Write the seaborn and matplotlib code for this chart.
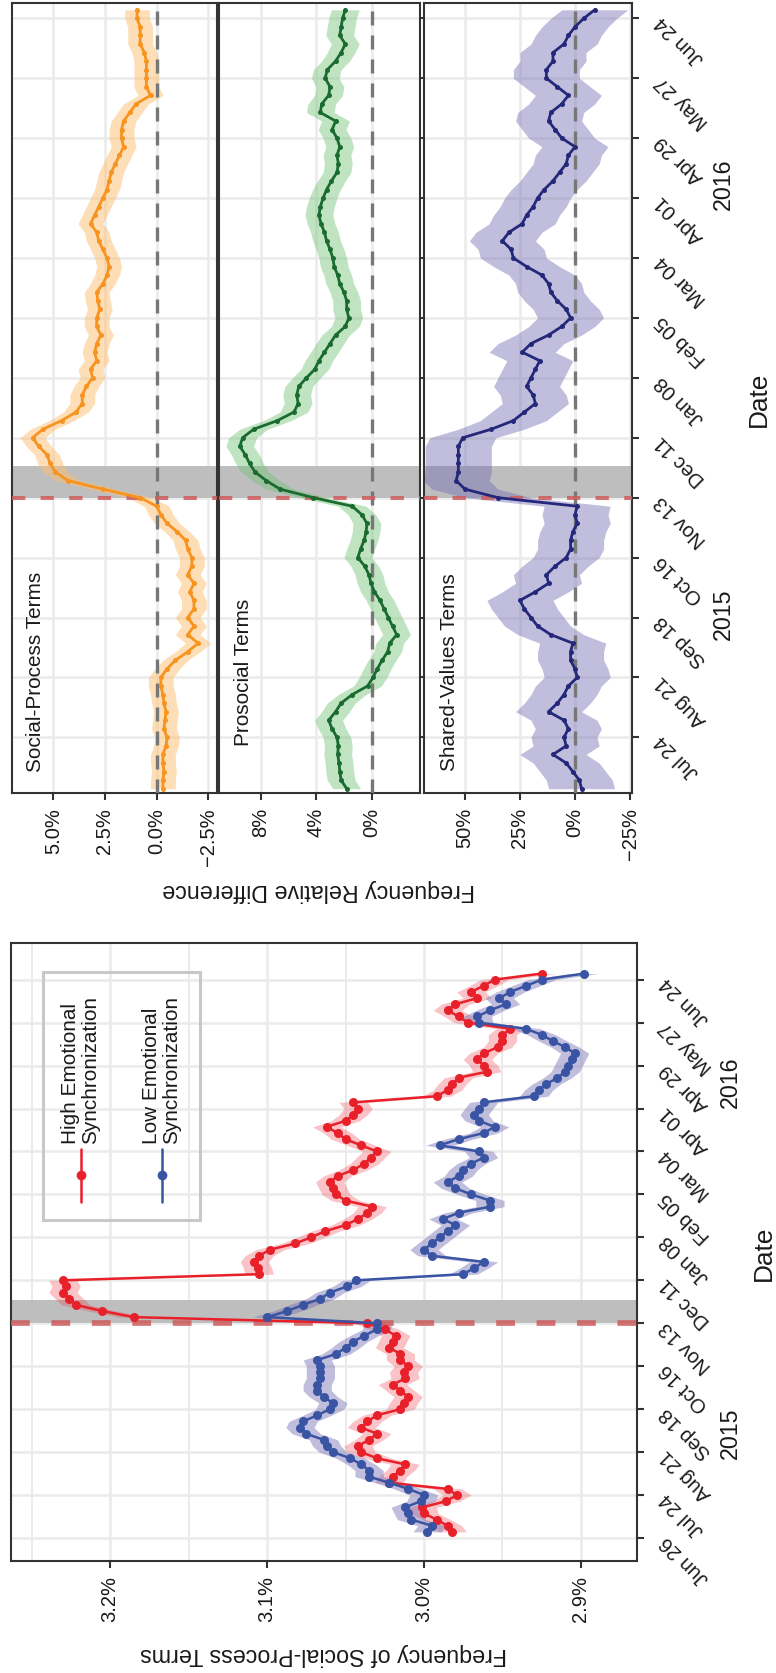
import matplotlib
matplotlib.use("Agg")
import numpy as np
import pandas as pd
import matplotlib.pyplot as plt
import matplotlib.dates as mdates
import matplotlib.transforms as mtransforms
from matplotlib import font_manager as fm
from matplotlib.lines import Line2D
from matplotlib.patches import Rectangle
import seaborn as sns

# ---- data (one value every 4 days) ----
dates = pd.date_range("2015-06-30", periods=92, freq="4D")

high_sync = [2.982, 2.985, 2.992, 3.000, 3.001, 2.986, 2.979, 2.985, 3.022, 3.020,
             3.015, 3.012, 3.030, 3.040, 3.042, 3.035, 3.030, 3.040, 3.036, 3.030,
             3.015, 3.013, 3.010, 3.015, 3.020, 3.012, 3.013, 3.010, 3.015, 3.015,
             3.022, 3.020, 3.018, 3.025, 3.036, 3.185, 3.205, 3.222, 3.226, 3.230,
             3.228, 3.230, 3.105, 3.106, 3.108, 3.105, 3.098, 3.082, 3.072, 3.063,
             3.050, 3.042, 3.036, 3.033, 3.050, 3.056, 3.058, 3.060, 3.055, 3.045,
             3.038, 3.034, 3.030, 3.040, 3.050, 3.055, 3.062, 3.050, 3.045, 3.042,
             3.045, 2.992, 2.985, 2.982, 2.978, 2.960, 2.962, 2.966, 2.962, 2.953,
             2.950, 2.950, 2.945, 2.972, 2.978, 2.985, 2.980, 2.966, 2.970, 2.962,
             2.955, 2.925]

low_sync = [2.998, 2.995, 3.008, 3.010, 3.012, 3.002, 3.000, 3.010, 3.022, 3.035,
            3.035, 3.040, 3.047, 3.058, 3.062, 3.064, 3.075, 3.079, 3.077, 3.068,
            3.060, 3.058, 3.064, 3.068, 3.068, 3.066, 3.066, 3.066, 3.068, 3.056,
            3.050, 3.045, 3.038, 3.030, 3.030, 3.100, 3.087, 3.077, 3.066, 3.060,
            3.049, 3.043, 2.975, 2.968, 2.962, 2.995, 3.000, 2.995, 2.990, 2.985,
            2.980, 2.988, 2.978, 2.958, 2.958, 2.970, 2.980, 2.985, 2.978, 2.975,
            2.970, 2.962, 2.965, 2.990, 2.978, 2.962, 2.955, 2.965, 2.968, 2.965,
            2.962, 2.930, 2.927, 2.922, 2.915, 2.910, 2.908, 2.906, 2.904, 2.910,
            2.918, 2.925, 2.935, 2.965, 2.966, 2.958, 2.948, 2.952, 2.945, 2.935,
            2.925, 2.898]

social_terms = [-0.3, -0.3, -0.35, -0.3, -0.3, -0.45, -0.5, -0.35, -0.4, -0.45,
                -0.35, -0.3, -0.2, -0.2, -0.5, -0.9, -1.5, -2.0, -1.5, -1.8,
                -1.5, -1.8, -1.8, -1.6, -1.8, -1.5, -1.7, -1.7, -1.5, -1.4,
                -1.0, -0.5, -0.2, 0.0, 0.8, 2.6, 4.3, 4.9, 5.15, 5.3,
                5.7, 6.0, 5.5, 4.6, 3.9, 3.6, 3.6, 3.4, 3.1, 3.2,
                2.9, 3.0, 2.9, 2.7, 2.9, 2.9, 2.75, 2.85, 2.9, 2.6,
                2.4, 2.3, 2.4, 2.6, 2.8, 2.9, 3.2, 3.0, 2.8, 2.6,
                2.4, 2.3, 2.2, 2.0, 1.8, 1.6, 1.7, 1.7, 1.6, 1.3,
                1.0, 0.3, 0.5, 0.5, 0.5, 0.5, 0.6, 0.8, 0.8, 0.8,
                0.95, 0.95]

prosocial_terms = [1.8, 2.2, 2.3, 2.35, 2.45, 2.4, 2.5, 2.85, 3.1, 2.6,
                   2.2, 1.4, 0.3, -0.1, -0.4, -0.75, -1.15, -1.3, -1.8, -1.5,
                   -1.2, -0.9, -0.6, -0.2, 0.05, 0.2, 0.5, 1.0, 0.8, 0.55,
                   0.4, 0.35, 0.7, 1.4, 4.2, 6.6, 7.6, 8.4, 8.8, 9.1,
                   9.5, 9.3, 8.5, 6.8, 5.6, 5.3, 5.4, 5.25, 4.7, 4.1,
                   3.8, 3.4, 3.0, 2.6, 1.9, 1.65, 1.8, 1.8, 2.0, 2.3,
                   2.45, 2.7, 2.8, 3.0, 3.25, 3.4, 3.65, 3.8, 3.7, 3.5,
                   3.25, 2.9, 2.5, 2.4, 2.5, 2.3, 2.5, 2.85, 2.6, 3.7,
                   3.6, 3.1, 3.0, 3.35, 3.2, 2.6, 2.2, 1.9, 2.3, 2.2,
                   2.1, 1.9]

shared_terms = [-3, -2, 1, 4, 10, 4, 5, 3, 5, 12,
                8, 5, 3, -1, 0, 2, 2, 1, 11, 17,
                20, 23, 25, 18, 12, 13, 9, 4, 2, 2,
                1, -1, 0, -1, 35, 50, 54, 53, 53, 53,
                53, 51, 38, 28, 23, 18, 19, 22, 20, 18,
                16, 24, 20, 12, 6, 2, 4, 8, 11, 12,
                15, 22, 28, 29, 33, 30, 24, 22, 19, 17,
                14, 10, 7, 4, 3, 0, 6, 9, 12, 11,
                6, 3, 8, 13, 13, 10, 10, 5, 3, 0,
                -4, -9]

tick_dates = pd.date_range("2015-06-26", periods=14, freq="28D")
tick_labels = ["Jun 26", "Jul 24", "Aug 21", "Sep 18", "Oct 16", "Nov 13", "Dec 11",
               "Jan 08", "Feb 05", "Mar 04", "Apr 01", "Apr 29", "May 27", "Jun 24"]

low_ticks = [3.2, 3.1, 3.0, 2.9]
low_tick_labels = ["3.2%", "3.1%", "3.0%", "2.9%"]
social_ticks = [5.0, 2.5, 0.0, -2.5]
social_tick_labels = ["5.0%", "2.5%", "0.0%", "\u22122.5%"]
prosocial_ticks = [8, 4, 0]
prosocial_tick_labels = ["8%", "4%", "0%"]
shared_ticks = [50, 25, 0, -25]
shared_tick_labels = ["50%", "25%", "0%", "\u221225%"]

attack_day = "2015-11-13"
band_end = "2015-11-28"

# ---- style ----
sns.set_theme(style="whitegrid")

# prefer a narrow face like the original; otherwise shrink text a little
names = {f.name for f in fm.fontManager.ttflist}
noto_cond = any(f.name == "Noto Sans" and f.stretch in ("condensed", "semi-condensed")
                for f in fm.fontManager.ttflist)
if "Liberation Sans Narrow" in names:
    plt.rcParams["font.family"] = ["Liberation Sans Narrow", "DejaVu Sans"]
    S = 1.0
elif noto_cond:
    plt.rcParams["font.family"] = ["Noto Sans", "DejaVu Sans"]
    plt.rcParams["font.stretch"] = "condensed"
    S = 0.95
else:
    plt.rcParams["font.family"] = ["Liberation Sans", "DejaVu Sans"]
    S = 0.88
plt.rcParams["text.color"] = "#1a1a1a"

W, H = 776, 1674
fig = plt.figure(figsize=(W / 100, H / 100), dpi=100)


def rect(x0, y0, x1, y1):
    return [x0 / W, 1 - y1 / H, (x1 - x0) / W, (y1 - y0) / H]


def day(base, d=0.0):
    return mdates.date2num(pd.Timestamp(base) + pd.Timedelta(days=d))


def frame(ax, date_labels=True):
    for s in ax.spines.values():
        s.set_visible(True)
        s.set_color("#333333")
        s.set_linewidth(1.5)
    ax.set_axisbelow(True)
    ax.grid(True, which="major", color="#EBEBEB", lw=1.8)
    ax.yaxis.tick_right()
    ax.set_yticks(mdates.date2num(tick_dates), labels=tick_labels)
    ax.tick_params(axis="x", which="major", bottom=True, top=False, length=5, width=1.5,
                   color="#333333", labelsize=16.5 * S, labelrotation=90, pad=5,
                   labelcolor="#1a1a1a")
    ax.tick_params(axis="y", which="major", right=True, left=False, length=5, width=1.5,
                   color="#333333", labelsize=16.5 * S, labelrotation=135, pad=14,
                   labelcolor="#1a1a1a", labelright=date_labels, labelleft=False)
    plt.setp(ax.get_yticklabels(), ha="right", va="center", rotation_mode="anchor")
    ax.set_xlabel("")
    ax.set_ylabel("")


nov13 = day(attack_day)
band_hi = day(band_end)

# ---- lower panel: high vs low emotional synchronization ----
ax0 = fig.add_axes(rect(11.3, 944, 636.7, 1561.7))
ax0.axhspan(nov13, band_hi, color="#BEBEBE", lw=0, zorder=1)
hs = np.array(high_sync)
lo = np.array(low_sync)
ax0.fill_betweenx(dates, hs - 0.009, hs + 0.009, color="#EE3B46", alpha=0.3, lw=0, zorder=2)
ax0.fill_betweenx(dates, lo - 0.009, lo + 0.009, color="#7570B3", alpha=0.45, lw=0, zorder=2)
ax0.axhline(nov13, color="#CD5C5C", alpha=0.85, lw=4.1, ls=(0, (3.3, 3.8)), zorder=3)
sns.lineplot(x=high_sync, y=dates, orient="y", color="#E8202A", marker="o", markersize=6.5,
             markeredgewidth=0, lw=1.8, errorbar=None, ax=ax0, zorder=4)
sns.lineplot(x=low_sync, y=dates, orient="y", color="#3A54A4", marker="o", markersize=6.5,
             markeredgewidth=0, lw=1.8, errorbar=None, ax=ax0, zorder=4)
ax0.set_xticks(low_ticks, labels=low_tick_labels)
ax0.set_xticks([3.25, 3.15, 3.05, 2.95], minor=True)
frame(ax0)
ax0.set_xlim(3.2629, 2.8645)
ax0.set_ylim(day("2015-06-26", -14.8), day("2015-06-26", 387.9))
ax0.grid(True, axis="x", which="minor", color="#EBEBEB", lw=1.4)
ax0.tick_params(axis="x", which="minor", length=0)

# legend (rotated, drawn by hand)
ax0.add_patch(Rectangle((0.0507, 0.5516), 0.251, 0.4014, transform=ax0.transAxes,
                        fill=False, edgecolor="#C8C8C8", lw=2.2, zorder=6))
for xk, col, lab in [(0.1110, "#E8202A", "High Emotional\nSynchronization"),
                     (0.2405, "#3A54A4", "Low Emotional\nSynchronization")]:
    ax0.add_line(Line2D([xk, xk], [0.5807, 0.6665], transform=ax0.transAxes, color=col, lw=1.8, zorder=6))
    ax0.add_line(Line2D([xk], [0.6244], transform=ax0.transAxes, color=col, marker="o",
                        markersize=7, markeredgewidth=0, zorder=6))
    ax0.text(xk, 0.676, lab, transform=ax0.transAxes, rotation=90, rotation_mode="anchor",
             ha="left", va="center", fontsize=17 * S, linespacing=1.05, zorder=6)

tr0 = mtransforms.blended_transform_factory(ax0.transAxes, ax0.transData)
ax0.text(1.15, day("2015-09-03"), "2015", transform=tr0, rotation=90, ha="center", va="center", fontsize=19 * S)
ax0.text(1.15, day("2016-04-19"), "2016", transform=tr0, rotation=90, ha="center", va="center", fontsize=19 * S)
fig.text(764 / W, 1 - 1253 / H, "Date", rotation=90, ha="center", va="center", fontsize=21.5 * S)
fig.text(324 / W, 1 - 1655 / H, "Frequency of Social-Process Terms", rotation=180,
         ha="center", va="center", fontsize=19 * S)

# ---- upper panels: relative difference by term category ----
panels = [
    ("Social-Process Terms", social_terms, social_ticks, social_tick_labels),
    ("Prosocial Terms", prosocial_terms, prosocial_ticks, prosocial_tick_labels),
    ("Shared-Values Terms", shared_terms, shared_ticks, shared_tick_labels),
]
looks = [
    dict(box=(11.7, 216.7), xlim=(7.01, -2.90), width=0.6, line="#F7931E", fill="#FDBF6F", alpha=0.5, tx=0.114),
    dict(box=(219.0, 420.0), xlim=(11.0, -3.48), width=1.0, line="#1A6B30", fill="#74C476", alpha=0.45, tx=0.124),
    dict(box=(424.0, 632.0), xlim=(68.6, -25.9), width=15.0, line="#25287A", fill="#7570B3", alpha=0.45, tx=0.125),
]

for i, ((title, vals, ticks, tlabels), lk) in enumerate(zip(panels, looks)):
    ax = fig.add_axes(rect(lk["box"][0], 3.5, lk["box"][1], 794))
    v = np.array(vals, dtype=float)
    ax.axhspan(nov13, band_hi, color="#BEBEBE", lw=0, zorder=1)
    ax.fill_betweenx(dates, v - lk["width"], v + lk["width"], color=lk["fill"],
                     alpha=lk["alpha"], lw=0, zorder=2)
    ax.axvline(0, color="#777777", lw=2.4, ls=(0, (4.2, 3.0)), zorder=3)
    ax.axhline(nov13, color="#CD5C5C", alpha=0.85, lw=2.9, ls=(0, (3.3, 3.8)), zorder=3)
    sns.lineplot(x=vals, y=dates, orient="y", color=lk["line"], marker="o", markersize=3.6,
                 markeredgewidth=0, lw=2.0, errorbar=None, ax=ax, zorder=4)
    ax.set_xticks(ticks, labels=tlabels)
    frame(ax, date_labels=(i == 2))
    ax.set_xlim(*lk["xlim"])
    ax.set_ylim(day("2015-07-24", -26.0), day("2015-07-24", 343.4))
    trp = mtransforms.blended_transform_factory(ax.transAxes, ax.transData)
    ax.text(lk["tx"], day("2015-08-24"), title, transform=trp, rotation=90,
            ha="center", va="center", fontsize=17 * S)
    if i == 2:
        ax.text(1.44, day("2015-09-20"), "2015", transform=trp, rotation=90, ha="center", va="center", fontsize=19 * S)
        ax.text(1.44, day("2016-04-08"), "2016", transform=trp, rotation=90, ha="center", va="center", fontsize=19 * S)

fig.text(759 / W, 1 - 399 / H, "Date", rotation=90, ha="center", va="center", fontsize=21.5 * S)
fig.text(319 / W, 1 - 891 / H, "Frequency Relative Difference", rotation=180,
         ha="center", va="center", fontsize=19 * S)

fig.savefig("out.png", dpi=100)
